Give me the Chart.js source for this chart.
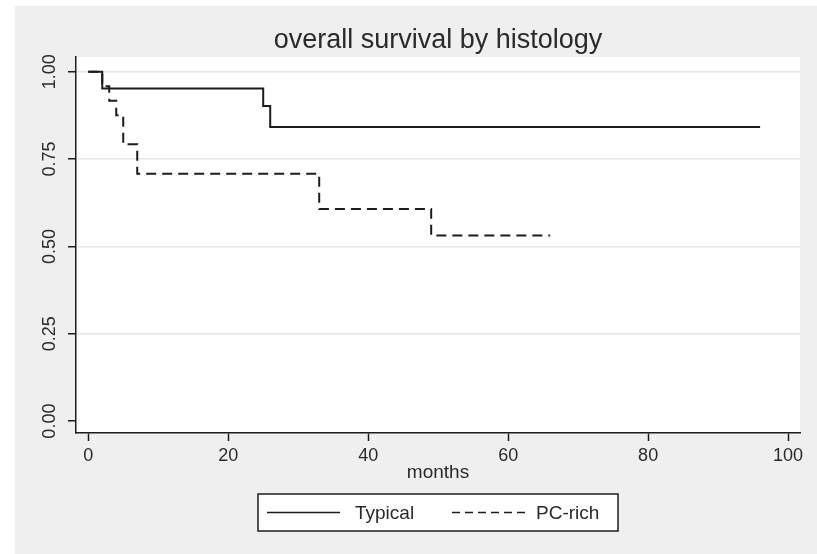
<!DOCTYPE html>
<html>
<head>
<meta charset="utf-8">
<title>overall survival by histology</title>
<script src="https://cdn.jsdelivr.net/npm/chart.js@4/dist/chart.umd.min.js"></script>
<style>
  html, body { margin: 0; padding: 0; background: #fff; }
  canvas { display: block; }
</style>
</head>
<body>
<canvas id="kmChart" width="817" height="554"></canvas>
<script>
// ── Data ──────────────────────────────────────────────────────────────────────
const TITLE = 'overall survival by histology';
const X_LABEL = 'months';
const X_TICKS = [0, 20, 40, 60, 80, 100];
const Y_TICKS = [0, 0.25, 0.5, 0.75, 1];
const Y_TICK_LABELS = ['0.00', '0.25', '0.50', '0.75', '1.00'];

const typicalMonths = [0, 2, 25, 26, 96];
const typicalSurv   = [1, 0.952, 0.902, 0.842, 0.842];

const pcRichMonths = [0, 2, 3, 4, 5, 7, 33, 49, 66];
const pcRichSurv   = [1, 0.958, 0.917, 0.875, 0.792, 0.708, 0.607, 0.531, 0.531];

const SERIES_NAMES = ['Typical', 'PC-rich'];

// ── Style ─────────────────────────────────────────────────────────────────────
const FONT = '"Liberation Sans", Arial, sans-serif';
const INK = '#1c1c1c';
const TEXT = '#2a2a2a';
const BG = '#efefef';
const GRID = '#e4e4e4';

const toPoints = (xs, ys) => xs.map((x, i) => ({ x, y: ys[i] }));

// ── Plugins: background, title, axis labels, legend box ───────────────────────
const backdrop = {
  id: 'backdrop',
  beforeDraw(chart) {
    const { ctx, chartArea: a } = chart;
    ctx.save();
    ctx.fillStyle = '#fff';
    ctx.fillRect(0, 0, chart.width, chart.height);
    ctx.fillStyle = BG;
    ctx.fillRect(15, 6, chart.width - 15, chart.height - 6);
    ctx.fillStyle = '#fff';
    ctx.fillRect(a.left, a.top, a.right - a.left, a.bottom - a.top);
    ctx.restore();
  },
};

const decorations = {
  id: 'decorations',
  afterDraw(chart) {
    const { ctx, chartArea: a, scales } = chart;
    ctx.save();
    ctx.fillStyle = TEXT;

    // title
    ctx.font = `27px ${FONT}`;
    ctx.textAlign = 'center';
    ctx.textBaseline = 'middle';
    ctx.fillText(TITLE, (a.left + a.right) / 2, 41);

    // x tick labels
    ctx.font = `18px ${FONT}`;
    X_TICKS.forEach((v) => {
      ctx.fillText(String(v), scales.x.getPixelForValue(v), 456);
    });

    // x axis title
    ctx.font = `19px ${FONT}`;
    ctx.fillText(X_LABEL, (a.left + a.right) / 2, 473);

    // y tick labels, vertical
    ctx.font = `18px ${FONT}`;
    Y_TICKS.forEach((v, i) => {
      const y = scales.y.getPixelForValue(v);
      ctx.save();
      ctx.translate(50, y);
      ctx.rotate(-Math.PI / 2);
      ctx.fillText(Y_TICK_LABELS[i], 0, 0);
      ctx.restore();
    });

    // legend box
    const box = { x: 258, y: 494, w: 360, h: 37 };
    ctx.fillStyle = '#fff';
    ctx.fillRect(box.x, box.y, box.w, box.h);
    ctx.strokeStyle = INK;
    ctx.lineWidth = 1.5;
    ctx.strokeRect(box.x, box.y, box.w, box.h);

    const midY = box.y + box.h / 2;
    const items = [
      { x0: 267, x1: 340, tx: 355 },
      { x0: 452, x1: 525, tx: 536 },
    ];
    chart.data.datasets.forEach((ds, i) => {
      const it = items[i];
      ctx.beginPath();
      ctx.setLineDash(i === 1 ? [8, 5] : []);
      ctx.lineWidth = 1.5;
      ctx.strokeStyle = INK;
      ctx.moveTo(it.x0, midY);
      ctx.lineTo(it.x1, midY);
      ctx.stroke();
      ctx.setLineDash([]);
      ctx.fillStyle = TEXT;
      ctx.font = `19px ${FONT}`;
      ctx.textAlign = 'left';
      ctx.fillText(ds.label, it.tx, midY + 1);
    });
    ctx.restore();
  },
};

// ── Chart ─────────────────────────────────────────────────────────────────────
new Chart(document.getElementById('kmChart').getContext('2d'), {
  type: 'line',
  data: {
    datasets: [{
      label: SERIES_NAMES[0],
      data: toPoints(typicalMonths, typicalSurv),
      borderColor: INK,
      borderWidth: 2,
      stepped: 'before',
      pointRadius: 0,
      fill: false,
    }, {
      label: SERIES_NAMES[1],
      data: toPoints(pcRichMonths, pcRichSurv),
      borderColor: INK,
      borderWidth: 2,
      borderDash: [10, 6],
      stepped: 'before',
      pointRadius: 0,
      fill: false,
    }],
  },
  options: {
    responsive: false,
    animation: false,
    devicePixelRatio: 1,
    layout: { padding: { left: 68, right: 17, top: 57, bottom: 113 } },
    plugins: { legend: { display: false }, title: { display: false }, tooltip: { enabled: false } },
    scales: {
      x: {
        type: 'linear',
        min: -1.75,
        max: 101.7,
        afterBuildTicks: (s) => { s.ticks = X_TICKS.map(v => ({ value: v })); },
        afterFit: (s) => { s.height = 8; },
        ticks: { display: false },
        grid: { drawOnChartArea: false, drawTicks: true, tickLength: 8, tickColor: INK, tickWidth: 1.5 },
        border: { color: INK, width: 1.5 },
      },
      y: {
        type: 'linear',
        min: -0.034,
        max: 1.042,
        afterBuildTicks: (s) => { s.ticks = Y_TICKS.map(v => ({ value: v })); },
        afterFit: (s) => { s.width = 8; },
        ticks: { display: false },
        grid: {
          color: (c) => (c.tick && c.tick.value === 0 ? 'rgba(0,0,0,0)' : GRID),
          lineWidth: 1.5,
          drawTicks: true,
          tickLength: 8,
          tickColor: INK,
          tickWidth: 1.5,
        },
        border: { color: INK, width: 1.5 },
      },
    },
  },
  plugins: [backdrop, decorations],
});
</script>
</body>
</html>
